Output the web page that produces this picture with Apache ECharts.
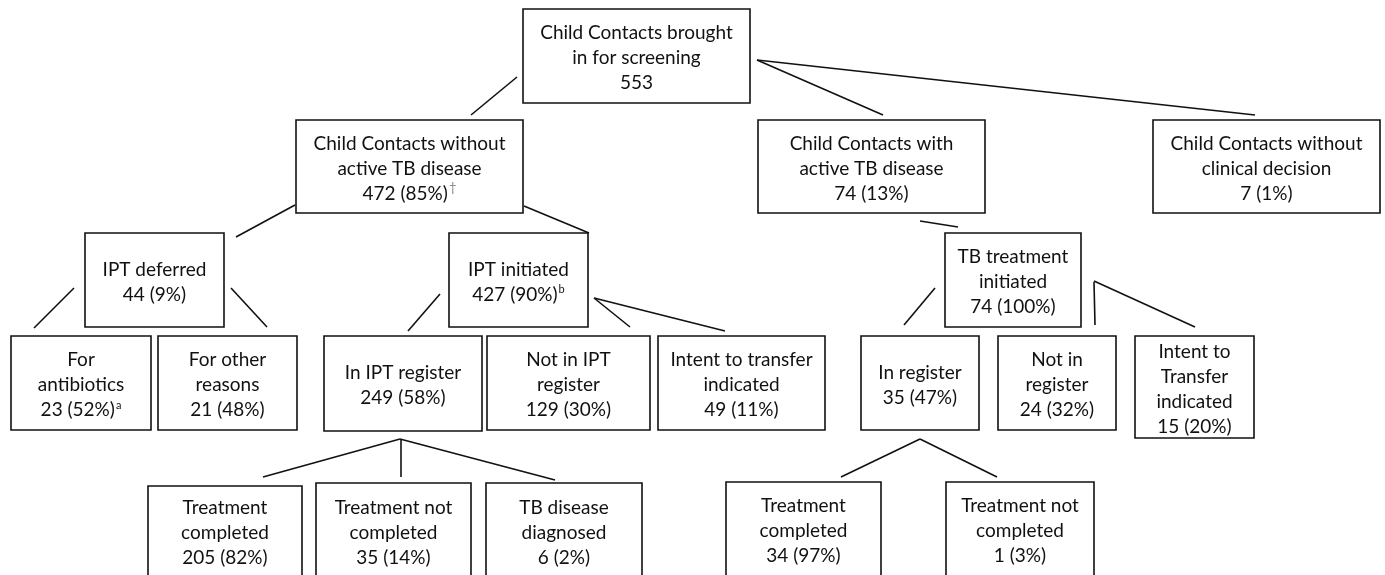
<!DOCTYPE html>
<html>
<head>
<meta charset="utf-8">
<script src="https://cdn.jsdelivr.net/npm/echarts@6/dist/echarts.min.js"></script>
<style>
html,body{margin:0;padding:0;background:#fff;}
#chart{width:1385px;height:575px;}
</style>
</head>
<body>
<div id="chart"></div>
<script>
// ---- Data: flowchart node contents ----
const nodeTitles = [
  "Child Contacts brought\nin for screening",
  "Child Contacts without\nactive TB disease",
  "Child Contacts with\nactive TB disease",
  "Child Contacts without\nclinical decision",
  "IPT deferred",
  "IPT initiated",
  "TB treatment\ninitiated",
  "For\nantibiotics",
  "For other\nreasons",
  "In IPT register",
  "Not in IPT\nregister",
  "Intent to transfer\nindicated",
  "In register",
  "Not in\nregister",
  "Intent to\nTransfer\nindicated",
  "Treatment\ncompleted",
  "Treatment not\ncompleted",
  "TB disease\ndiagnosed",
  "Treatment\ncompleted",
  "Treatment not\ncompleted"
];
const nodeCounts   = [553, 472, 74, 7, 44, 427, 74, 23, 21, 249, 129, 49, 35, 24, 15, 205, 35, 6, 34, 1];
const nodePercents = [null, 85, 13, 1, 9, 90, 100, 52, 48, 58, 30, 11, 47, 32, 20, 82, 14, 2, 97, 3];
const nodeNotes    = ["", "†", "", "", "", "b", "", "a", "", "", "", "", "", "", "", "", "", "", "", ""];
// parent -> child relations
const links = [[0,1],[0,2],[0,3],[1,4],[1,5],[4,7],[4,8],[5,9],[5,10],[5,11],[2,6],[6,12],[6,13],[6,14],[9,15],[9,16],[9,17],[12,18],[12,19]];

// ---- Layout (positions in chart units, x 0..1385, y 0..575 top-down) ----
const nodeBoxes = [
  [523, 9, 750, 103],
  [296, 120, 523, 213],
  [758, 120, 985, 213],
  [1153, 120, 1380, 213],
  [85, 233, 224, 327],
  [449, 233, 588, 327],
  [945, 233, 1081, 327],
  [11, 336, 151, 430],
  [158, 336, 297, 430],
  [324, 336, 482, 431],
  [487, 336, 650, 430],
  [658, 336, 825, 430],
  [861, 336, 979, 430],
  [998, 336, 1116, 430],
  [1135, 336, 1254, 438],
  [148, 486, 302, 590],
  [316, 483, 471, 590],
  [486, 483, 642, 590],
  [726, 482, 881, 590],
  [946, 482, 1094, 590]
];
const textCenterY = {15: 533, 16: 533, 17: 533, 18: 531, 19: 531};
const linkAnchors = [
  [[517, 77], [471, 115]],
  [[757, 60], [883, 115]],
  [[757, 60], [1255, 115]],
  [[295, 205], [236, 237]],
  [[524, 206], [589, 233]],
  [[74, 288], [34, 328]],
  [[231, 288], [267, 327]],
  [[440, 294], [408, 331]],
  [[594, 298], [630, 327]],
  [[594, 298], [725, 331]],
  [[920, 221], [958, 227]],
  [[935, 288], [904, 325]],
  [[1094, 282], [1095, 325]],
  [[1094, 281], [1195, 327]],
  [[400, 439], [263, 477]],
  [[401, 439], [401, 477]],
  [[400, 439], [555, 480]],
  [[920, 439], [841, 477]],
  [[920, 439], [997, 477]]
];

const FONT = 'Lato, "Open Sans", sans-serif';
const FS = 19;

function labelFor(i) {
  let s = nodeTitles[i] + "\n" + nodeCounts[i];
  if (nodePercents[i] !== null) s += " (" + nodePercents[i] + "%)";
  if (nodeNotes[i]) s += "{" + (nodeNotes[i] === "†" ? "dag" : "sup") + "|" + nodeNotes[i] + "}";
  return s;
}

const boxData = nodeBoxes.map((b, i) => [b[0], b[1], b[2], b[3], i]);
const lineData = links.map((l, k) => ({ coords: linkAnchors[k] }));

const chart = echarts.init(document.getElementById('chart'), null, { renderer: 'canvas' });
chart.setOption({
  animation: false,
  backgroundColor: '#ffffff',
  grid: { left: 0, right: 0, top: 0, bottom: 0 },
  xAxis: { type: 'value', min: 0, max: 1385, show: false },
  yAxis: { type: 'value', min: 0, max: 575, inverse: true, show: false },
  series: [
    {
      type: 'lines',
      coordinateSystem: 'cartesian2d',
      silent: true,
      z: 1,
      lineStyle: { color: '#111', width: 1.6, opacity: 1, curveness: 0 },
      data: lineData
    },
    {
      type: 'custom',
      coordinateSystem: 'cartesian2d',
      silent: true,
      z: 2,
      data: boxData,
      renderItem: function (params, api) {
        const p1 = api.coord([api.value(0), api.value(1)]);
        const p2 = api.coord([api.value(2), api.value(3)]);
        const idx = api.value(4);
        const cx = (p1[0] + p2[0]) / 2;
        const cy = textCenterY[idx] !== undefined ? api.coord([0, textCenterY[idx]])[1] : (p1[1] + p2[1]) / 2 + 2;
        return {
          type: 'group',
          children: [
            {
              type: 'rect',
              shape: { x: p1[0], y: p1[1], width: p2[0] - p1[0], height: p2[1] - p1[1] },
              style: { fill: '#fff', stroke: '#111', lineWidth: 1.6 }
            },
            {
              type: 'text',
              x: cx,
              y: cy,
              style: {
                text: labelFor(idx),
                fill: '#111',
                fontFamily: FONT,
                fontSize: FS,
                lineHeight: 25,
                align: 'center',
                verticalAlign: 'middle',
                textAlign: 'center',
                textVerticalAlign: 'middle',
                rich: {
                  sup: { fontSize: 11, fontFamily: FONT, fill: '#111', lineHeight: 25, verticalAlign: 'top', padding: [2, 0, 0, 1] },
                  dag: { fontSize: 13, fontFamily: FONT, fill: '#888', lineHeight: 25, verticalAlign: 'top', padding: [0, 0, 0, 1] }
                }
              }
            }
          ]
        };
      }
    }
  ]
});
</script>
</body>
</html>
